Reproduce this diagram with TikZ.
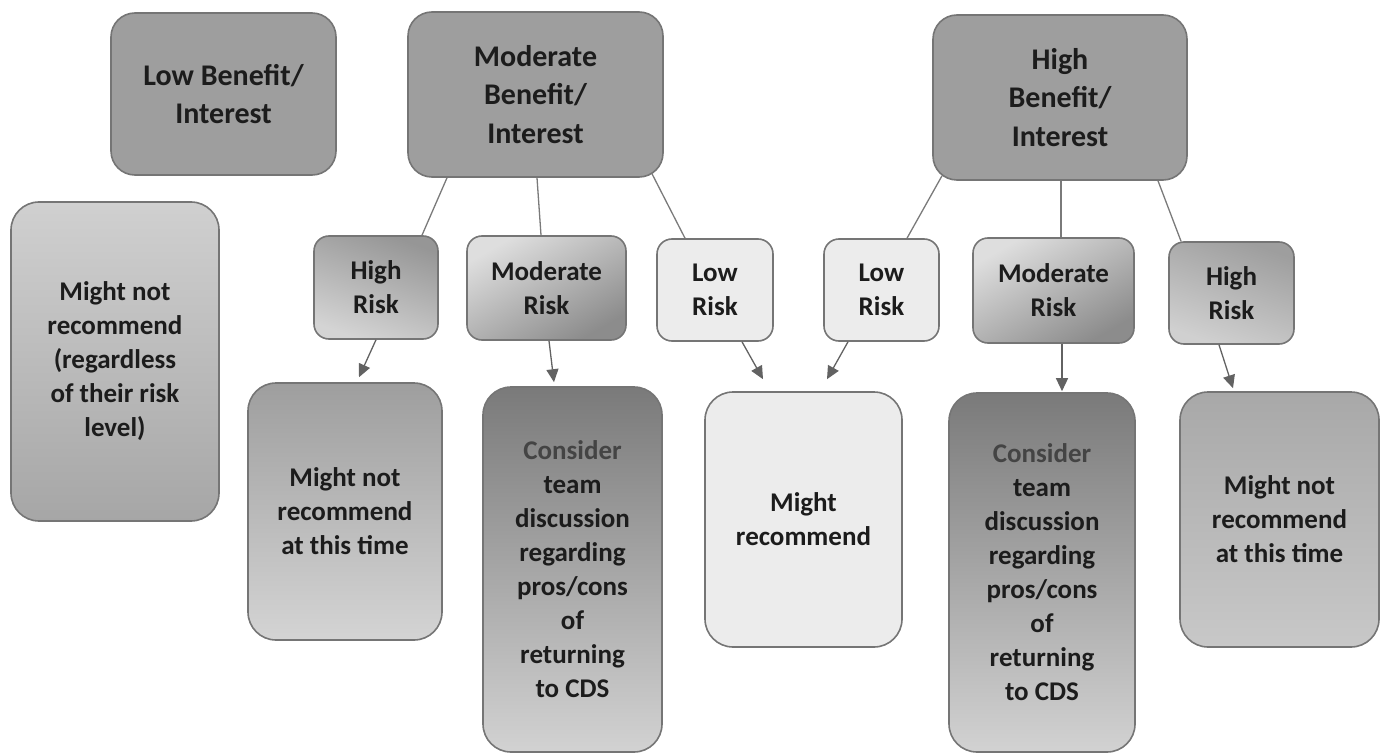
\documentclass[tikz,border=0pt]{standalone}
\usepackage{fontspec}
\setmainfont{Carlito}
\usetikzlibrary{arrows.meta}
\definecolor{txt}{HTML}{1C1C1C}
\definecolor{bord}{HTML}{757575}
\definecolor{conn}{HTML}{7A7A7A}
\definecolor{topg}{HTML}{9E9E9E}
\definecolor{lite}{HTML}{ECECEC}
\definecolor{consid}{HTML}{444444}
\definecolor{lnA}{HTML}{D0D0D0}
\definecolor{lnB}{HTML}{A6A6A6}
\definecolor{hrA}{HTML}{969696}
\definecolor{hrB}{HTML}{D4D4D4}
\definecolor{mrA}{HTML}{DEDEDE}
\definecolor{mrB}{HTML}{8C8C8C}
\definecolor{hqA}{HTML}{9E9E9E}
\definecolor{hqB}{HTML}{D0D0D0}
\definecolor{oA}{HTML}{9E9E9E}
\definecolor{oB}{HTML}{D4D4D4}
\definecolor{cA}{HTML}{7A7A7A}
\definecolor{cB}{HTML}{D2D2D2}
\definecolor{pA}{HTML}{A8A8A8}
\definecolor{pB}{HTML}{C8C8C8}
\tikzset{
  boxbase/.style={draw=bord, line width=1.6pt, align=center, text=txt, inner sep=0pt,
    font=\fontsize{27}{34}\selectfont\bfseries},
  topbox/.style={boxbase, fill=topg, rounded corners=24pt,
    font=\fontsize{30}{38.5}\selectfont\bfseries},
  riskbox/.style={boxbase, rounded corners=15pt},
  outbox/.style={boxbase, rounded corners=28pt},
  conline/.style={draw=conn, line width=1.3pt},
  arr/.style={draw=conn!80!black, line width=1.3pt, -{Triangle[length=13pt,width=12pt]}},
}
\begin{document}
\begin{tikzpicture}[x=1pt,y=-1pt]
\useasboundingbox (0,0) rectangle (1383,754);
% top level
\node[topbox, minimum width=225pt, minimum height=162pt] (lb) at (223.5,94) {Low Benefit/\\Interest};
\node[topbox, minimum width=255pt, minimum height=165pt] (mb) at (535.5,94.5) {Moderate\\Benefit/\\Interest};
\node[topbox, minimum width=254pt, minimum height=165pt] (hb) at (1060,97.5) {High\\Benefit/\\Interest};
% left tall
\node[outbox, top color=lnA, bottom color=lnB, minimum width=208pt, minimum height=319pt] (ln) at (115,361.5) {Might not\\recommend\\(regardless\\of their risk\\level)};
% risk level
\node[riskbox, left color=hrA, right color=hrB, shading angle=-20, minimum width=124pt, minimum height=103pt] (hr1) at (376,287.5) {High\\Risk};
\node[riskbox, top color=mrA, bottom color=mrB, shading angle=30, minimum width=159pt, minimum height=104pt] (mr1) at (546.5,288) {Moderate\\Risk};
\node[riskbox, fill=lite, minimum width=116pt, minimum height=102pt] (lr1) at (715,290) {Low\\Risk};
\node[riskbox, fill=lite, minimum width=115pt, minimum height=102pt] (lr2) at (881.5,290) {Low\\Risk};
\node[riskbox, top color=mrA, bottom color=mrB, shading angle=30, minimum width=161pt, minimum height=105pt] (mr2) at (1053.5,290.5) {Moderate\\Risk};
\node[riskbox, left color=hqA, right color=hqB, shading angle=-20, minimum width=125pt, minimum height=102pt] (hr2) at (1231.5,293) {High\\Risk};
% outcomes
\node[outbox, top color=oA, bottom color=oB, minimum width=194pt, minimum height=257pt] (o1) at (345,511.5) {Might not\\recommend\\at this time};
\node[outbox, top color=cA, bottom color=cB, minimum width=179pt, minimum height=365pt] (o2) at (572.5,569.5) {\textcolor{consid}{Consider}\\team\\discussion\\regarding\\pros/cons\\of\\returning\\to CDS};
\node[outbox, fill=lite, minimum width=197pt, minimum height=255pt] (o3) at (803.5,519.5) {Might\\recommend};
\node[outbox, top color=cA, bottom color=cB, minimum width=186pt, minimum height=359pt] (o4) at (1042,572.5) {\textcolor{consid}{Consider}\\team\\discussion\\regarding\\pros/cons\\of\\returning\\to CDS};
\node[outbox, top color=pA, bottom color=pB, minimum width=199pt, minimum height=255pt] (o5) at (1279.5,519.5) {Might not\\recommend\\at this time};
% connectors benefit -> risk
\draw[conline] ([xshift=-88.5pt]mb.south) -- ([xshift=46pt]hr1.north);
\draw[conline] ([xshift=1.5pt]mb.south) -- ([xshift=-5.5pt]mr1.north);
\draw[conline] ([xshift=116.5pt,yshift=4pt]mb.south) -- ([xshift=-30pt]lr1.north);
\draw[conline] ([xshift=-118pt,yshift=5pt]hb.south) -- ([xshift=25.5pt]lr2.north);
\draw[conline] ([xshift=1pt]hb.south) -- ([xshift=7.5pt]mr2.north);
\draw[conline] ([xshift=98pt]hb.south) -- ([xshift=-50.5pt]hr2.north);
% arrows risk -> outcome
\draw[arr] (hr1.south) -- ([xshift=14pt,yshift=5pt]o1.north);
\draw[arr] ([xshift=2.5pt]mr1.south) -- ([xshift=-18.5pt,yshift=4pt]o2.north);
\draw[arr] ([xshift=27pt]lr1.south) -- ([xshift=-40.5pt,yshift=12pt]o3.north);
\draw[arr] ([xshift=-33.5pt]lr2.south) -- ([xshift=23.5pt,yshift=12pt]o3.north);
\draw[arr] ([xshift=8.5pt]mr2.south) -- ([xshift=20pt,yshift=1pt]o4.north);
\draw[arr] ([xshift=-12.5pt]hr2.south) -- ([xshift=-46.5pt,yshift=3pt]o5.north);
\end{tikzpicture}
\end{document}
